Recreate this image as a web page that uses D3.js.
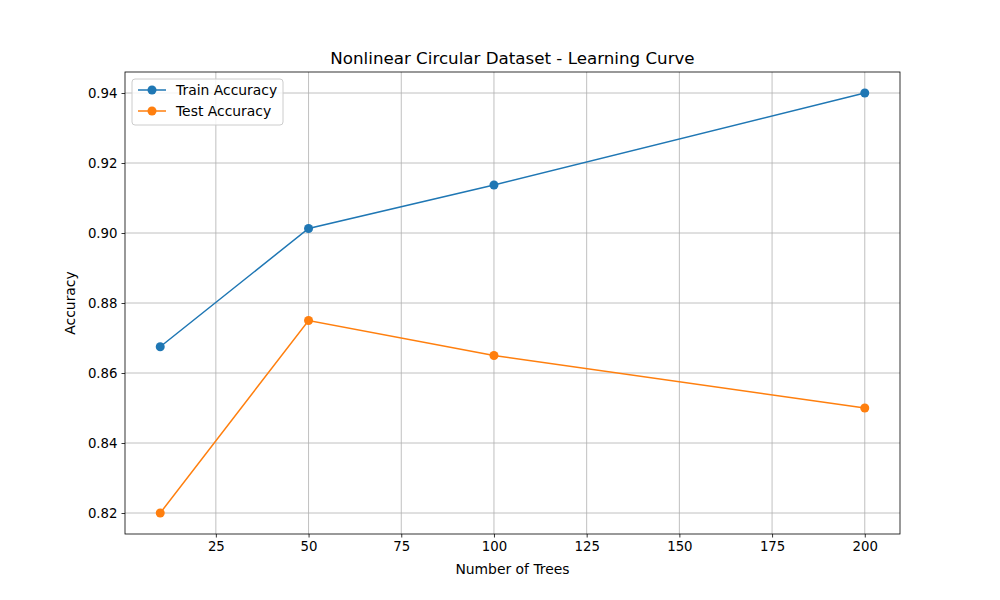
<!DOCTYPE html>
<html>
<head>
<meta charset="utf-8">
<script src="https://cdn.jsdelivr.net/npm/d3@7"></script>
<style>
  body { margin: 0; background: #fff; }
  text { font-family: "DejaVu Sans", sans-serif; }
</style>
</head>
<body>
<div id="chart"></div>
<script>
// Values
var trees = [10, 50, 100, 200];
var trainAccuracy = [0.8675, 0.9013, 0.9137, 0.94];
var testAccuracy = [0.82, 0.875, 0.865, 0.85];
var xTicks = [25, 50, 75, 100, 125, 150, 175, 200];
var yTicks = [0.82, 0.84, 0.86, 0.88, 0.90, 0.92, 0.94];

var chartWidth = 1000;
var chartHeight = 600;
var margins = { top: 72, right: 100, bottom: 66, left: 125 };
var width = chartWidth - margins.left - margins.right;
var height = chartHeight - margins.top - margins.bottom;

var svg = d3.select("#chart").append("svg")
  .attr("width", chartWidth)
  .attr("height", chartHeight);

var g = svg.append("g")
  .attr("transform", `translate(${margins.left}, ${margins.top})`);

var x = d3.scaleLinear().domain([0.5, 209.5]).range([0, width]);
var y = d3.scaleLinear().domain([0.814, 0.946]).range([height, 0]);

// grid
g.selectAll(".vgrid").data(xTicks).enter().append("line")
  .attr("x1", d => x(d)).attr("x2", d => x(d))
  .attr("y1", 0).attr("y2", height)
  .attr("stroke", "#b0b0b0").attr("stroke-width", 0.8);
g.selectAll(".hgrid").data(yTicks).enter().append("line")
  .attr("y1", d => y(d)).attr("y2", d => y(d))
  .attr("x1", 0).attr("x2", width)
  .attr("stroke", "#b0b0b0").attr("stroke-width", 0.8);

// axes
var xAxis = g.append("g").attr("transform", `translate(0, ${height})`)
  .call(d3.axisBottom(x).tickValues(xTicks).tickSize(3.5).tickPadding(4));
var yAxis = g.append("g")
  .call(d3.axisLeft(y).tickValues(yTicks).tickFormat(d3.format(".2f")).tickSize(3.5).tickPadding(4));
[xAxis, yAxis].forEach(function(a) {
  a.select(".domain").remove();
  a.selectAll("text").attr("font-size", 13.3).attr("fill", "#000").style("font-family", "DejaVu Sans, sans-serif");
  a.selectAll("line").attr("stroke", "#000").attr("stroke-width", 0.8);
});

g.append("rect").attr("width", width).attr("height", height)
  .attr("fill", "none").attr("stroke", "#000").attr("stroke-width", 0.8);

// series
var series = [
  { name: "Train Accuracy", values: trainAccuracy, color: "#1f77b4" },
  { name: "Test Accuracy", values: testAccuracy, color: "#ff7f0e" }
];
var line = d3.line().x((d, i) => x(trees[i])).y(d => y(d));
series.forEach(function(s) {
  g.append("path").attr("d", line(s.values))
    .attr("fill", "none").attr("stroke", s.color).attr("stroke-width", 1.5);
  g.selectAll(null).data(s.values).enter().append("circle")
    .attr("cx", (d, i) => x(trees[i])).attr("cy", d => y(d))
    .attr("r", 4.5).attr("fill", s.color);
});

// legend
var legend = g.append("g").attr("transform", "translate(7, 7)");
legend.append("rect").attr("width", 151).attr("height", 46).attr("rx", 3)
  .attr("fill", "#fff").attr("fill-opacity", 0.8).attr("stroke", "#ccc");
series.forEach(function(s, i) {
  var ly = 11 + i * 21;
  legend.append("line").attr("x1", 6).attr("x2", 34).attr("y1", ly).attr("y2", ly)
    .attr("stroke", s.color).attr("stroke-width", 1.5);
  legend.append("circle").attr("cx", 20).attr("cy", ly).attr("r", 4.5).attr("fill", s.color);
  legend.append("text").attr("x", 44).attr("y", ly + 5).attr("font-size", 13.9).text(s.name);
});

// titles
svg.append("text").attr("x", margins.left + width / 2).attr("y", 64)
  .attr("text-anchor", "middle").attr("font-size", 16.7).text("Nonlinear Circular Dataset - Learning Curve");
svg.append("text").attr("x", margins.left + width / 2).attr("y", 574)
  .attr("text-anchor", "middle").attr("font-size", 13.9).text("Number of Trees");
svg.append("text").attr("transform", `translate(75, ${margins.top + height / 2}) rotate(-90)`)
  .attr("text-anchor", "middle").attr("font-size", 13.9).text("Accuracy");
</script>
</body>
</html>
